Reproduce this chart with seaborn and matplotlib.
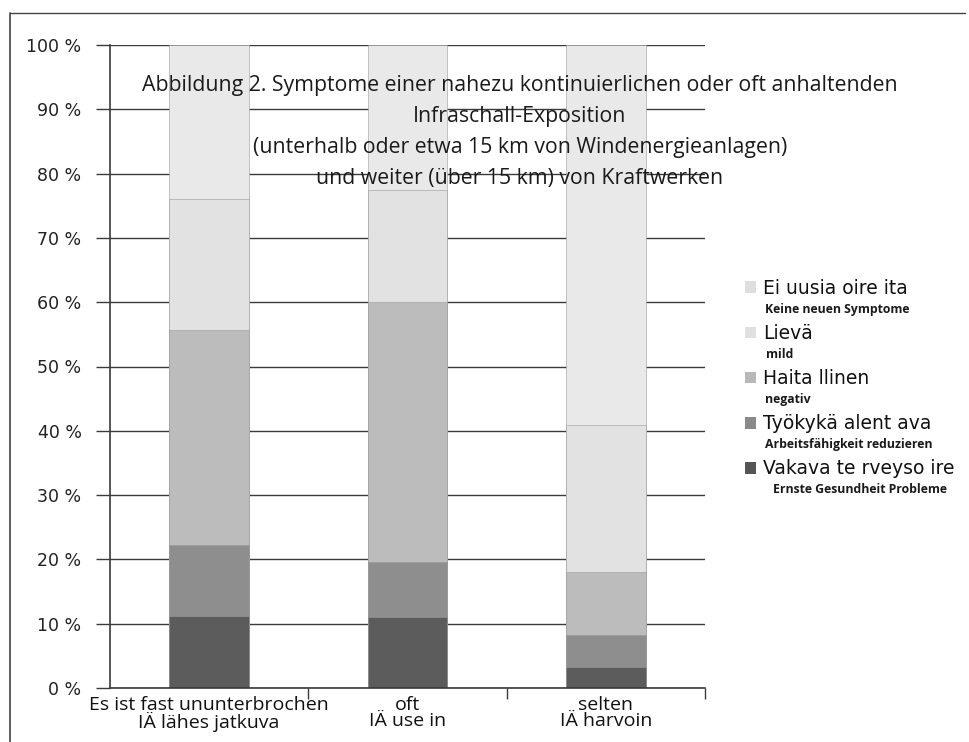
import numpy as np
import pandas as pd
import matplotlib
matplotlib.use("Agg")
import matplotlib.pyplot as plt
from matplotlib.patches import Patch
from matplotlib.lines import Line2D
import seaborn as sns

# ---------------- data ----------------
categories = ["Es ist fast ununterbrochen\nIÄ lähes jatkuva",
              "oft\nIÄ use in",
              "selten\nIÄ harvoin"]
# segments from bottom to top (percent)
vakava = [11.2, 11.0, 3.3]
tyokyka = [11.1, 8.6, 4.9]
haitallinen = [33.3, 40.4, 9.8]
lieva = [20.4, 17.4, 22.9]
ei_uusia = [24.0, 22.6, 59.1]

series_fi = ["Ei uusia oire ita", "Lievä", "Haita llinen", "Työkykä alent ava", "Vakava te rveyso ire"]
series_de = ["Keine neuen Symptome", "mild", "negativ", "Arbeitsfähigkeit reduzieren", "Ernste Gesundheit Probleme"]
yticks = [0, 10, 20, 30, 40, 50, 60, 70, 80, 90, 100]
ytick_labels = [f"{v} %" for v in yticks]
title = ("Abbildung 2. Symptome einer nahezu kontinuierlichen oder oft anhaltenden\n"
         "Infraschall-Exposition\n"
         "(unterhalb oder etwa 15 km von Windenergieanlagen)\n"
         "und weiter (über 15 km) von Kraftwerken")

# ---------------- style ----------------
sns.set_theme(style="white")
plt.rcParams["font.family"] = ["DejaVu Sans"]

bar_colors = ["#e9e9e9", "#e2e2e2", "#bcbcbc", "#8e8e8e", "#5c5c5c"]
legend_colors = ["#dedede", "#e0e0e0", "#b8b8b8", "#8a8a8a", "#555555"]

fig = plt.figure(figsize=(9.7, 7.42), dpi=100)
ax = fig.add_axes([110 / 970, 1 - 688 / 742, (705 - 110) / 970, (688 - 45) / 742])

segments = [vakava, tyokyka, haitallinen, lieva, ei_uusia]  # bottom -> top
cum = np.cumsum(np.array(segments), axis=0)  # cumulative tops
# draw from top series down so lower segments overlay
for idx in range(len(segments) - 1, -1, -1):
    top_idx = len(segments) - 1 - idx  # index into bar_colors (top first)
    df = pd.DataFrame({"cat": categories, "val": cum[idx]})
    sns.barplot(data=df, x="cat", y="val", color=bar_colors[top_idx], saturation=1,
                width=0.4, ax=ax, edgecolor="#9a9a9a", linewidth=0.4)

ax.set_xlim(-0.5, 2.5)
ax.set_ylim(0, 100)
ax.set_yticks(yticks)
ax.set_yticklabels(ytick_labels, fontsize=12.5, color="#222222")
ax.yaxis.grid(True, color="#3a3a3a", linewidth=1.0)
ax.set_axisbelow(True)
ax.tick_params(axis="y", which="major", length=10, width=1.0, color="#3a3a3a", left=True, pad=10.5)
ax.tick_params(axis="x", which="major", length=0, pad=6)
ax.set_xticks(range(len(categories)))
ax.set_xticklabels(categories, fontsize=14, family=["Open Sans", "DejaVu Sans"],
                   linespacing=0.85, color="#111111")
ax.set_xticks([0.5, 1.5, 2.5], minor=True)
ax.tick_params(axis="x", which="minor", length=8, width=1.0, color="#3a3a3a", bottom=True, direction="out")
ax.set_xlabel("")
ax.set_ylabel("")
for s in ["top", "right"]:
    ax.spines[s].set_visible(False)
ax.spines["left"].set_color("#3a3a3a")
ax.spines["bottom"].set_color("#3a3a3a")
ax.spines["left"].set_linewidth(1.2)
ax.spines["bottom"].set_linewidth(1.2)

# title inside the plot
fig.text(520 / 970, 1 - 132 / 742, title, ha="center", va="center", multialignment="center",
         fontsize=15.3, family=["Open Sans", "DejaVu Sans"], color="#1a1a1a", linespacing=1.62)

# legend
handles = [Patch(facecolor=c, edgecolor="none") for c in legend_colors]
leg = fig.legend(handles, series_fi, loc="upper left", bbox_to_anchor=(745 / 970, 1 - 279 / 742),
                 frameon=False, fontsize=13.5, handlelength=0.6, handleheight=0.6,
                 handletextpad=0.35, labelspacing=1.39, borderaxespad=0, borderpad=0)
for t in leg.get_texts():
    t.set_color("#111111")

# outer frame of the original chart
fig.add_artist(Line2D([10 / 970, 10 / 970], [0, 1 - 13 / 742], transform=fig.transFigure,
                      color="#444444", linewidth=1.2))
fig.add_artist(Line2D([10 / 970, 965 / 970], [1 - 13 / 742, 1 - 13 / 742], transform=fig.transFigure,
                      color="#444444", linewidth=1.0))

# German sub-labels under legend entries
fig.canvas.draw()
renderer = fig.canvas.get_renderer()
inv = fig.transFigure.inverted()
indents = [2, 3, 2, 2, 10]
for t, de, ind in zip(leg.get_texts(), series_de, indents):
    bb = t.get_window_extent(renderer)
    x, y = inv.transform((bb.x0 + ind, bb.y0 - 5))
    fig.text(x, y, de, ha="left", va="top", fontsize=8.8, fontweight="bold",
             family=["Open Sans", "DejaVu Sans"], color="#1a1a1a")

fig.savefig("out.png", dpi=100)
